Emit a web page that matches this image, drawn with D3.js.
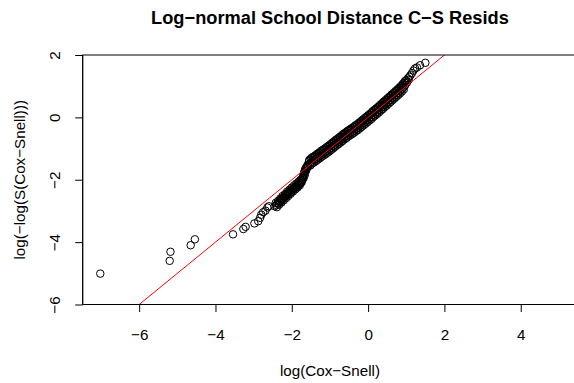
<!DOCTYPE html>
<html>
<head>
<meta charset="utf-8">
<script src="https://cdn.jsdelivr.net/npm/d3@7"></script>
<style>
  html, body { margin: 0; padding: 0; background: #fff; }
  svg { display: block; }
  text { font-family: "Liberation Sans", Arial, Helvetica, sans-serif; fill: #000; }
</style>
</head>
<body>
<svg id="chart" width="574" height="383"></svg>
<script>
// Cox-Snell residual check for the log-normal school distance model:
// log(Cox-Snell) against log(-log(S(Cox-Snell))), with the y = x reference line.
const titleText = "Log\u2212normal School Distance C\u2212S Resids";
const xLabel = "log(Cox\u2212Snell)";
const yLabel = "log(\u2212log(S(Cox\u2212Snell)))";
const xTicks = [-6, -4, -2, 0, 2, 4];
const yTicks = [-6, -4, -2, 0, 2];

// log residuals
const logResid = [
  // sparse lower tail
  -7.02, -5.20, -5.18, -4.65, -4.54, -3.54, -3.27, -3.21, -2.98, -2.88, -2.83, -2.80,
  -2.75, -2.69, -2.64, -2.60,
  // lower band
  -2.45, -2.40, -2.38, -2.35, -2.33, -2.31, -2.29, -2.27, -2.25, -2.22, -2.20, -2.18,
  -2.16, -2.14, -2.12, -2.10, -2.08, -2.05, -2.03, -2.01, -1.99, -1.97, -1.95, -1.93,
  -1.91, -1.89, -1.87, -1.85, -1.83, -1.81, -1.79, -1.77, -1.75, -1.74, -1.73, -1.72,
  -1.71, -1.70, -1.69, -1.68, -1.67, -1.66, -1.65, -1.64, -1.62, -1.60, -1.58,
  -2.42, -2.36, -2.30, -2.24, -2.18, -2.12, -2.06, -2.00, -1.94, -1.88, -1.82, -1.77,
  -2.39, -2.33, -2.27, -2.21, -2.15, -2.09, -2.03, -1.97, -1.91, -1.85, -1.79,
  -1.69, -1.66, -1.63, -1.61, -1.57,
  // main band
  -1.55, -1.525, -1.50, -1.475, -1.45, -1.425, -1.40, -1.375, -1.35, -1.325,
  -1.30, -1.275, -1.25, -1.225, -1.20, -1.175, -1.15, -1.125, -1.10, -1.075,
  -1.05, -1.025, -1.00, -0.975, -0.95, -0.925, -0.90, -0.875, -0.85, -0.825,
  -0.80, -0.775, -0.75, -0.725, -0.70, -0.675, -0.65, -0.625, -0.60, -0.575,
  -0.55, -0.525, -0.50, -0.475, -0.45, -0.425, -0.40, -0.375, -0.35, -0.325,
  -0.30, -0.275, -0.25, -0.225, -0.20, -0.175, -0.15, -0.125, -0.10, -0.075,
  -0.05, -0.025, 0.00, 0.025, 0.05, 0.075, 0.10, 0.125, 0.15, 0.175,
  0.20, 0.225, 0.25, 0.275, 0.30, 0.325, 0.35, 0.375, 0.40, 0.425,
  0.45, 0.475, 0.50, 0.525, 0.55, 0.575, 0.60, 0.625, 0.65, 0.675,
  0.70, 0.725, 0.75, 0.775, 0.80, 0.825, 0.85, 0.875, 0.90, 0.925,
  0.95, 0.975, 1.00, 1.02, 1.04, 1.06, 1.08,
  // main band, upper edge
  -1.5375, -1.4875, -1.4375, -1.3875, -1.3375, -1.2875, -1.2375, -1.1875, -1.1375, -1.0875,
  -1.0375, -0.9875, -0.9375, -0.8875, -0.8375, -0.7875, -0.7375, -0.6875, -0.6375, -0.5875,
  -0.5375, -0.4875, -0.4375, -0.3875, -0.3375, -0.2875, -0.2375, -0.1875, -0.1375, -0.0875,
  -0.0375, 0.0125, 0.0625, 0.1125, 0.1625, 0.2125, 0.2625, 0.3125, 0.3625, 0.4125,
  0.4625, 0.5125, 0.5625, 0.6125, 0.6625, 0.7125, 0.7625, 0.8125, 0.8625, 0.9125, 0.9625,
  // main band, lower edge
  -1.5125, -1.4625, -1.4125, -1.3625, -1.3125, -1.2625, -1.2125, -1.1625, -1.1125, -1.0625,
  -1.0125, -0.9625, -0.9125, -0.8625, -0.8125, -0.7625, -0.7125, -0.6625, -0.6125, -0.5625,
  -0.5125, -0.4625, -0.4125, -0.3625, -0.3125, -0.2625, -0.2125, -0.1625, -0.1125, -0.0625,
  -0.0125, 0.0375, 0.0875, 0.1375, 0.1875, 0.2375, 0.2875, 0.3375, 0.3875, 0.4375,
  0.4875, 0.5375, 0.5875, 0.6375, 0.6875, 0.7375, 0.7875, 0.8375, 0.8875, 0.9375,
  // sparse upper tail
  1.11, 1.15, 1.19, 1.23, 1.28, 1.36, 1.50
];

// log cumulative hazard of the residuals
const logCumHaz = [
  // sparse lower tail
  -5.01, -4.60, -4.31, -4.10, -3.91, -3.75, -3.58, -3.51, -3.40, -3.33, -3.22, -3.12,
  -3.04, -2.99, -2.89, -2.85,
  // lower band
  -2.85, -2.81, -2.76, -2.75, -2.70, -2.71, -2.64, -2.66, -2.60, -2.60, -2.54, -2.55,
  -2.49, -2.51, -2.45, -2.47, -2.40, -2.42, -2.35, -2.37, -2.30, -2.33, -2.26, -2.28,
  -2.22, -2.24, -2.18, -2.20, -2.14, -2.16, -2.10, -2.11, -2.05, -2.08, -2.00, -1.96,
  -1.92, -1.88, -1.84, -1.80, -1.76, -1.72, -1.68, -1.64, -1.60, -1.56, -1.52,
  -2.74, -2.68, -2.60, -2.52, -2.46, -2.38, -2.32, -2.25, -2.18, -2.12, -2.06, -2.00,
  -2.88, -2.80, -2.73, -2.66, -2.59, -2.52, -2.45, -2.38, -2.31, -2.25, -2.18,
  -1.95, -1.85, -1.72, -1.66, -1.58,
  // main band
  -1.41, -1.48, -1.35, -1.42, -1.31, -1.38, -1.27, -1.34, -1.22, -1.29,
  -1.18, -1.25, -1.13, -1.20, -1.09, -1.16, -1.05, -1.12, -1.00, -1.07,
  -0.96, -1.03, -0.91, -0.98, -0.86, -0.93, -0.81, -0.88, -0.76, -0.83,
  -0.72, -0.79, -0.67, -0.74, -0.62, -0.69, -0.57, -0.64, -0.53, -0.60,
  -0.48, -0.55, -0.44, -0.51, -0.40, -0.47, -0.36, -0.43, -0.31, -0.38,
  -0.27, -0.34, -0.22, -0.29, -0.17, -0.24, -0.12, -0.19, -0.07, -0.14,
  -0.02, -0.09, 0.03, -0.04, 0.08, 0.01, 0.14, 0.07, 0.19, 0.12,
  0.24, 0.17, 0.29, 0.22, 0.35, 0.28, 0.40, 0.33, 0.46, 0.39,
  0.51, 0.44, 0.57, 0.50, 0.62, 0.55, 0.68, 0.61, 0.73, 0.66,
  0.79, 0.72, 0.84, 0.77, 0.90, 0.83, 0.96, 0.89, 1.03, 0.96,
  1.11, 1.04, 1.19, 1.12, 1.25, 1.20, 1.30,
  // main band, upper edge
  -1.36, -1.30, -1.26, -1.22, -1.17, -1.13, -1.08, -1.04, -1.00, -0.95,
  -0.91, -0.86, -0.81, -0.76, -0.71, -0.67, -0.62, -0.57, -0.52, -0.48,
  -0.43, -0.39, -0.35, -0.31, -0.26, -0.22, -0.17, -0.12, -0.07, -0.02,
  0.03, 0.08, 0.13, 0.19, 0.24, 0.29, 0.34, 0.40, 0.45, 0.51,
  0.56, 0.62, 0.67, 0.73, 0.78, 0.84, 0.89, 0.95, 1.01, 1.08, 1.16,
  // main band, lower edge
  -1.54, -1.48, -1.44, -1.40, -1.35, -1.31, -1.26, -1.22, -1.18, -1.13,
  -1.09, -1.04, -0.99, -0.94, -0.89, -0.85, -0.80, -0.75, -0.70, -0.66,
  -0.61, -0.57, -0.53, -0.49, -0.44, -0.40, -0.35, -0.30, -0.25, -0.20,
  -0.15, -0.10, -0.05, 0.01, 0.06, 0.11, 0.16, 0.22, 0.27, 0.33,
  0.38, 0.44, 0.49, 0.55, 0.60, 0.66, 0.71, 0.77, 0.83, 0.90,
  // sparse upper tail
  1.35, 1.42, 1.50, 1.57, 1.60, 1.67, 1.75
];

const points = logResid.map((v, i) => ({ x: v, y: logCumHaz[i] }));

const svg = d3.select("#chart");
const plot = { left: 82.7, right: 577.2, top: 55, bottom: 304.5 };
const baseFont = 15.2;

const x = d3.scaleLinear().domain([-7.48, 5.48]).range([plot.left, plot.right]);
const y = d3.scaleLinear().domain([-6, 2]).range([plot.bottom, plot.top]);

const minusFmt = d => String(d).replace("-", "\u2212");

// clip region for the plot area
svg.append("defs").append("clipPath").attr("id", "plotClip")
  .append("rect")
  .attr("x", plot.left).attr("y", plot.top)
  .attr("width", plot.right - plot.left).attr("height", plot.bottom - plot.top);

// points
svg.append("g")
  .attr("clip-path", "url(#plotClip)")
  .selectAll("circle")
  .data(points)
  .join("circle")
  .attr("cx", d => x(d.x))
  .attr("cy", d => y(d.y))
  .attr("r", 3.75)
  .attr("fill", "none")
  .attr("stroke", "#000")
  .attr("stroke-width", 1);

// reference line y = x
const lineDomain = [-8, 6];
svg.append("g")
  .attr("clip-path", "url(#plotClip)")
  .append("line")
  .attr("x1", x(lineDomain[0])).attr("y1", y(lineDomain[0]))
  .attr("x2", x(lineDomain[1])).attr("y2", y(lineDomain[1]))
  .attr("stroke", "#ff0000")
  .attr("stroke-width", 1);

// box
svg.append("rect")
  .attr("x", plot.left).attr("y", plot.top)
  .attr("width", plot.right - plot.left).attr("height", plot.bottom - plot.top)
  .attr("fill", "none").attr("stroke", "#000").attr("stroke-width", 1);

// x axis
const xAxis = d3.axisBottom(x).tickValues(xTicks).tickSize(7.5).tickFormat(minusFmt);
const gx = svg.append("g").attr("transform", `translate(0,${plot.bottom})`).call(xAxis);
gx.select(".domain").attr("d", `M${x(-6)},0H${x(4)}`).attr("stroke", "#000");
gx.selectAll(".tick line").attr("stroke", "#000");
gx.selectAll(".tick text")
  .attr("font-size", baseFont)
  .attr("font-family", "Liberation Sans, Arial, sans-serif")
  .attr("fill", "#000")
  .attr("dy", null)
  .attr("y", 35.5);

// y axis
const yAxis = d3.axisLeft(y).tickValues(yTicks).tickSize(7.5).tickFormat(minusFmt);
const gy = svg.append("g").attr("transform", `translate(${plot.left},0)`).call(yAxis);
gy.select(".domain").attr("d", `M0,${y(-6)}V${y(2)}`).attr("stroke", "#000");
gy.selectAll(".tick line").attr("stroke", "#000");
gy.selectAll(".tick text")
  .attr("font-size", baseFont)
  .attr("font-family", "Liberation Sans, Arial, sans-serif")
  .attr("fill", "#000")
  .attr("x", null).attr("dy", null)
  .attr("text-anchor", "middle")
  .attr("transform", "translate(-22.5,0) rotate(-90)");

// title
svg.append("text")
  .attr("x", (plot.left + plot.right) / 2)
  .attr("y", 24)
  .attr("text-anchor", "middle")
  .attr("font-size", baseFont * 1.2)
  .attr("font-weight", "bold")
  .text(titleText);

// axis titles
svg.append("text")
  .attr("x", (plot.left + plot.right) / 2)
  .attr("y", 375.5)
  .attr("text-anchor", "middle")
  .attr("font-size", baseFont)
  .text(xLabel);

svg.append("text")
  .attr("transform", `translate(24.5,${(plot.top + plot.bottom) / 2}) rotate(-90)`)
  .attr("text-anchor", "middle")
  .attr("font-size", baseFont)
  .text(yLabel);
</script>
</body>
</html>
